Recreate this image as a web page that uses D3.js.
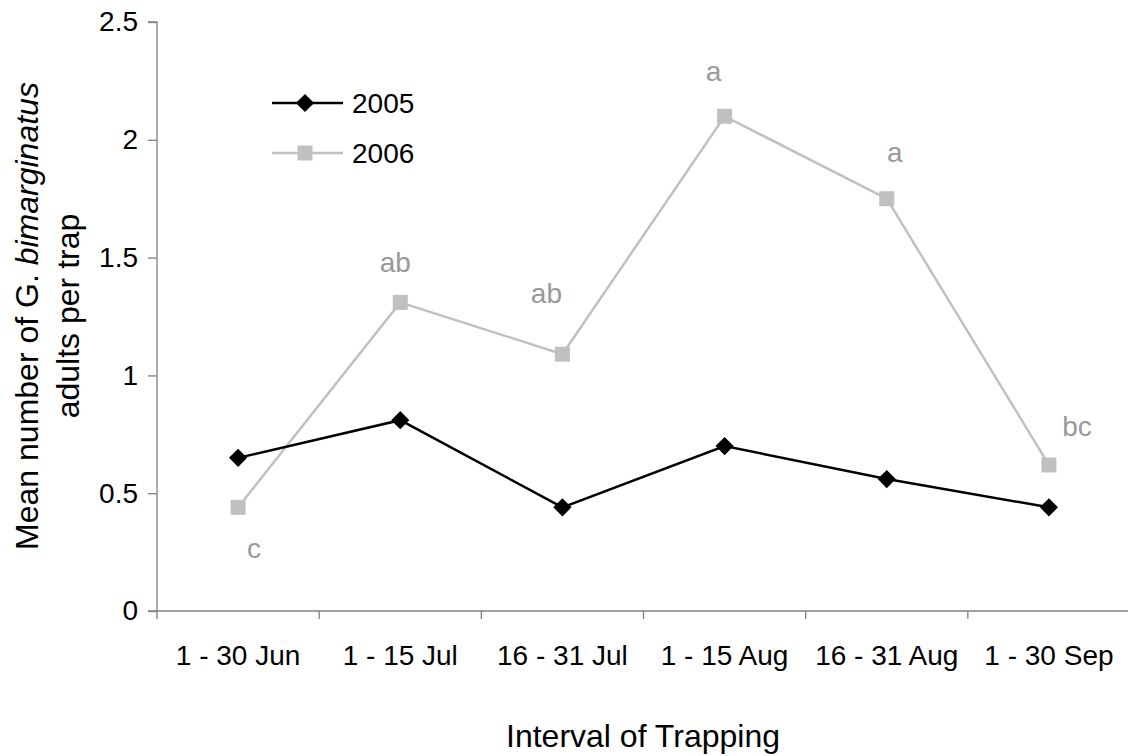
<!DOCTYPE html>
<html lang="en">
<head>
<meta charset="UTF-8">
<title>G. bimarginatus adults per trap</title>
<script src="https://d3js.org/d3.v7.min.js"></script>
<style>
  body { margin: 0; background: #fff; }
  text { font-family: "Liberation Sans", Arial, sans-serif; }
  .axis path, .axis line { stroke: #808080; stroke-width: 1.3; }
  .axis text { font-size: 28px; fill: #000; }
</style>
</head>
<body>
<script>
var intervals = ['1 - 30 Jun', '1 - 15 Jul', '16 - 31 Jul', '1 - 15 Aug', '16 - 31 Aug', '1 - 30 Sep'];
var y2005 = [0.65, 0.81, 0.44, 0.70, 0.56, 0.44];
var y2006 = [0.44, 1.31, 1.09, 2.10, 1.75, 0.62];
var letters2006 = ['c', 'ab', 'ab', 'a', 'a', 'bc'];
var yTicks = [0, 0.5, 1, 1.5, 2, 2.5];

var width = 1128, height = 756;
var mLeft = 157, mRight = 1130, mTop = 22, mBottom = 611;

var svg = d3.select('body').append('svg')
    .attr('width', width)
    .attr('height', height);

var x = d3.scaleBand().domain(intervals).range([mLeft, mRight]);
var y = d3.scaleLinear().domain([0, 2.5]).range([mBottom, mTop]);

var xaxis = d3.axisBottom(x).tickSize(0).tickPadding(0);
var gx = svg.append('g')
    .attr('class', 'axis')
    .attr('transform', 'translate(0,' + mBottom + ')')
    .call(xaxis);
gx.select('.domain').attr('d', 'M' + (mLeft - 9) + ',0H' + mRight);
gx.selectAll('.tick text').attr('dy', null).attr('y', 54);
// tick marks between categories
gx.selectAll('.sep')
    .data(intervals.concat(['end']))
    .enter().append('line')
    .attr('x1', function (d, i) { return mLeft + i * x.bandwidth(); })
    .attr('x2', function (d, i) { return mLeft + i * x.bandwidth(); })
    .attr('y1', 0).attr('y2', 8);

var yaxis = d3.axisLeft(y).tickValues(yTicks).tickSize(9).tickPadding(10)
    .tickFormat(d3.format('~g'));
var gy = svg.append('g')
    .attr('class', 'axis')
    .attr('transform', 'translate(' + mLeft + ',0)')
    .call(yaxis);
gy.select('.domain').attr('d', 'M-9,' + mTop + 'H0V' + mBottom);

var cx = function (d, i) { return x(intervals[i]) + x.bandwidth() / 2; };

var line = d3.line()
    .x(function (d, i) { return cx(d, i); })
    .y(function (d) { return y(d); });

// 2006 series
svg.append('path').datum(y2006)
    .attr('d', line)
    .attr('fill', 'none')
    .attr('stroke', '#c0c0c0')
    .attr('stroke-width', 2.5);
svg.selectAll('.sq')
    .data(y2006).enter().append('rect')
    .attr('x', function (d, i) { return cx(d, i) - 7.5; })
    .attr('y', function (d) { return y(d) - 7.5; })
    .attr('width', 15).attr('height', 15)
    .attr('fill', '#c0c0c0');

// 2005 series
svg.append('path').datum(y2005)
    .attr('d', line)
    .attr('fill', 'none')
    .attr('stroke', '#000')
    .attr('stroke-width', 2.5);
var diamond = d3.symbol().type(d3.symbolSquare).size(165);
svg.selectAll('.dm')
    .data(y2005).enter().append('path')
    .attr('d', diamond)
    .attr('fill', '#000')
    .attr('transform', function (d, i) { return 'translate(' + cx(d, i) + ',' + y(d) + ') rotate(45)'; });

// significance letters
var letterPos = [[16, 51], [-5, -30], [-16, -51], [-11, -35], [8, -37], [28, -29]];
svg.selectAll('.lt')
    .data(letters2006).enter().append('text')
    .attr('x', function (d, i) { return cx(d, i) + letterPos[i][0]; })
    .attr('y', function (d, i) { return y(y2006[i]) + letterPos[i][1]; })
    .attr('text-anchor', 'middle')
    .attr('font-size', 28)
    .attr('fill', '#999')
    .text(function (d) { return d; });

// legend
var legend = [{ name: '2005', color: '#000', shape: 'diamond', y: 103 },
              { name: '2006', color: '#c0c0c0', shape: 'square', y: 153 }];
var lg = svg.selectAll('.lg').data(legend).enter().append('g');
lg.append('line')
    .attr('x1', 272).attr('x2', 343)
    .attr('y1', function (d) { return d.y; }).attr('y2', function (d) { return d.y; })
    .attr('stroke', function (d) { return d.color; })
    .attr('stroke-width', 2.5);
lg.append('path')
    .attr('d', function (d) {
        return d.shape === 'diamond' ? diamond() : 'M-7.5,-7.5h15v15h-15z';
    })
    .attr('fill', function (d) { return d.color; })
    .attr('transform', function (d) {
        return 'translate(305,' + d.y + ')' + (d.shape === 'diamond' ? ' rotate(45)' : '');
    });
lg.append('text')
    .attr('x', 352).attr('y', function (d) { return d.y + 10; })
    .attr('font-size', 28)
    .text(function (d) { return d.name; });

// axis titles
svg.append('text')
    .attr('x', 643).attr('y', 747)
    .attr('text-anchor', 'middle')
    .attr('font-size', 32)
    .text('Interval of Trapping');

var yt = svg.append('text')
    .attr('transform', 'translate(38,316) rotate(-90)')
    .attr('text-anchor', 'middle')
    .attr('font-size', 32);
yt.append('tspan').attr('x', 0).attr('dy', 0).text('Mean number of ');
yt.append('tspan').text('G. ');
yt.append('tspan').attr('font-style', 'italic').text('bimarginatus');
yt.append('tspan').attr('x', 0).attr('dy', 41).text('adults per trap');
</script>
</body>
</html>
